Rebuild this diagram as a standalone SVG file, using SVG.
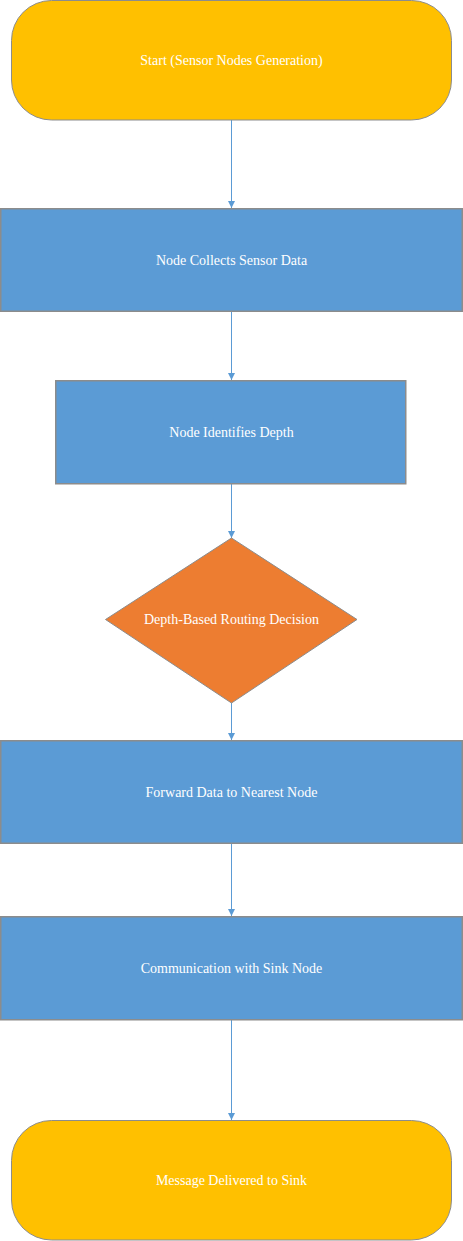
<svg xmlns="http://www.w3.org/2000/svg" width="463" height="1241" viewBox="0 0 463 1241">
<defs>
<style>
.term{fill:#ffc000;stroke:#8c8c8c;stroke-width:1}
.proc{fill:#5b9bd5;stroke:#8c8c8c;stroke-width:1.5}
.dec{fill:#ed7d31;stroke:#8c8c8c;stroke-width:1}
.lbl{font-family:"Liberation Serif","Times New Roman",serif;font-size:14px;fill:#ffffff;text-anchor:middle;dominant-baseline:central}
.conn{stroke:#5b9bd5;stroke-width:1;fill:none;marker-end:url(#arr)}
</style>
<marker id="arr" markerWidth="8" markerHeight="8" refX="7" refY="4" orient="auto" markerUnits="userSpaceOnUse">
<path d="M0,0.5 L7,4 L0,7.5 Z" fill="#5b9bd5"/>
</marker>
</defs>
<g id="connectors">
<line class="conn" x1="231.5" y1="120" x2="231.5" y2="208"/>
<line class="conn" x1="231.5" y1="312" x2="231.5" y2="380"/>
<line class="conn" x1="231.5" y1="484" x2="231.5" y2="538"/>
<line class="conn" x1="231.5" y1="703" x2="231.5" y2="740"/>
<line class="conn" x1="231.5" y1="844" x2="231.5" y2="916"/>
<line class="conn" x1="231.5" y1="1020" x2="231.5" y2="1120"/>
</g>
<g id="start">
<rect class="term" x="11.5" y="0.5" width="440" height="119.5" rx="40" ry="40"/>
<text class="lbl" x="231.5" y="60">Start (Sensor Nodes Generation)</text>
</g>
<g id="collect">
<rect class="proc" x="0.75" y="208.75" width="461.5" height="102.5"/>
<text class="lbl" x="231.5" y="260">Node Collects Sensor Data</text>
</g>
<g id="depth">
<rect class="proc" x="55.75" y="380.75" width="350" height="103"/>
<text class="lbl" x="231.5" y="432">Node Identifies Depth</text>
</g>
<g id="decision">
<polygon class="dec" points="231.5,538 357,619.5 231.5,703 105.5,619.5"/>
<text class="lbl" x="231.5" y="619">Depth-Based Routing Decision</text>
</g>
<g id="forward">
<rect class="proc" x="0.75" y="740.75" width="461.5" height="102.5"/>
<text class="lbl" x="231.5" y="792">Forward Data to Nearest Node</text>
</g>
<g id="sink">
<rect class="proc" x="0.75" y="916.75" width="461.5" height="103"/>
<text class="lbl" x="231.5" y="968">Communication with Sink Node</text>
</g>
<g id="delivered">
<rect class="term" x="11.5" y="1120.5" width="440" height="119.5" rx="40" ry="40"/>
<text class="lbl" x="231.5" y="1180">Message Delivered to Sink</text>
</g>
</svg>
